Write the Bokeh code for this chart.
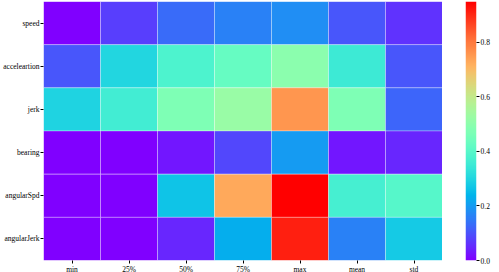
import numpy as np
from bokeh.plotting import figure
from bokeh.layouts import row
from bokeh.models import ColumnDataSource, LinearColorMapper, FixedTicker, PrintfTickFormatter
from bokeh.transform import transform
from bokeh.embed import file_html
from bokeh.resources import INLINE

rows = ["speed", "acceleartion", "jerk", "bearing", "angularSpd", "angularJerk"]
cols = ["min", "25%", "50%", "75%", "max", "mean", "std"]

speed        = [0.000, 0.076, 0.133, 0.162, 0.180, 0.105, 0.062]
acceleartion = [0.105, 0.304, 0.380, 0.428, 0.494, 0.352, 0.105]
jerk         = [0.295, 0.361, 0.475, 0.523, 0.760, 0.475, 0.124]
bearing      = [0.000, 0.000, 0.028, 0.086, 0.200, 0.028, 0.048]
angularSpd   = [0.000, 0.000, 0.266, 0.730, 0.950, 0.370, 0.400]
angularJerk  = [0.000, 0.000, 0.048, 0.228, 0.912, 0.162, 0.276]

vmin, vmax = 0.0, 0.95
cbar_ticks = [0.0, 0.2, 0.4, 0.6, 0.8]

table = [speed, acceleartion, jerk, bearing, angularSpd, angularJerk]
xs, ys, vs = [], [], []
for r, vals in zip(rows, table):
    for c, v in zip(cols, vals):
        xs.append(c); ys.append(r); vs.append(v)
src = ColumnDataSource(dict(x=xs, y=ys, v=vs))

# matplotlib "rainbow" colormap
def rainbow(t):
    r = min(max(abs(2 * t - 0.5), 0), 1)
    g = min(max(np.sin(np.pi * t), 0), 1)
    b = min(max(np.cos(np.pi * t / 2), 0), 1)
    return "#%02x%02x%02x" % (int(round(r * 255)), int(round(g * 255)), int(round(b * 255)))

palette = [rainbow(i / 255) for i in range(256)]
mapper = LinearColorMapper(palette=palette, low=vmin, high=vmax)

FONT = "Liberation Serif"
FS = "7.5px"
FH = 259

p = figure(frame_width=399, frame_height=FH, x_range=cols, y_range=list(reversed(rows)),
           output_backend="svg", toolbar_location=None,
           min_border_left=28, min_border_top=1, min_border_bottom=0, min_border_right=0)
p.rect(x="x", y="y", width=1, height=1, source=src,
       fill_color=transform("v", mapper), line_color="white", line_alpha=0.3, line_width=1)

p.outline_line_color = None
p.grid.grid_line_color = None
for ax in (p.xaxis, p.yaxis):
    ax.axis_line_color = None
    ax.major_tick_line_color = "black"
    ax.major_tick_out = 3
    ax.major_tick_in = 0
    ax.minor_tick_line_color = None
    ax.major_label_text_font = FONT
    ax.major_label_text_font_size = FS
    ax.major_label_text_color = "black"
    ax.major_label_standoff = 1
    ax.axis_label_standoff = 0

# colour bar as its own small figure
cb = figure(frame_width=11, frame_height=FH, x_range=(0, 1), y_range=(vmin, vmax),
            y_axis_location="right", output_backend="svg", toolbar_location=None,
            min_border_left=23, min_border_right=0, min_border_top=1, min_border_bottom=6)
grad = np.linspace(vmin, vmax, 256).reshape(-1, 1)
cb.image(image=[grad], x=0, y=vmin, dw=1, dh=vmax - vmin, color_mapper=mapper)
cb.xaxis.visible = False
cb.grid.grid_line_color = None
cb.outline_line_color = None
cb.yaxis.ticker = FixedTicker(ticks=cbar_ticks)
cb.yaxis.formatter = PrintfTickFormatter(format="%.1f")
cb.yaxis.axis_line_color = None
cb.yaxis.major_tick_line_color = "black"
cb.yaxis.major_tick_out = 3
cb.yaxis.major_tick_in = 0
cb.yaxis.minor_tick_line_color = None
cb.yaxis.major_label_text_font = FONT
cb.yaxis.major_label_text_font_size = FS
cb.yaxis.major_label_text_color = "black"
cb.yaxis.major_label_standoff = 1

layout = row(p, cb)
open("out.html", "w").write(file_html(layout, INLINE))
